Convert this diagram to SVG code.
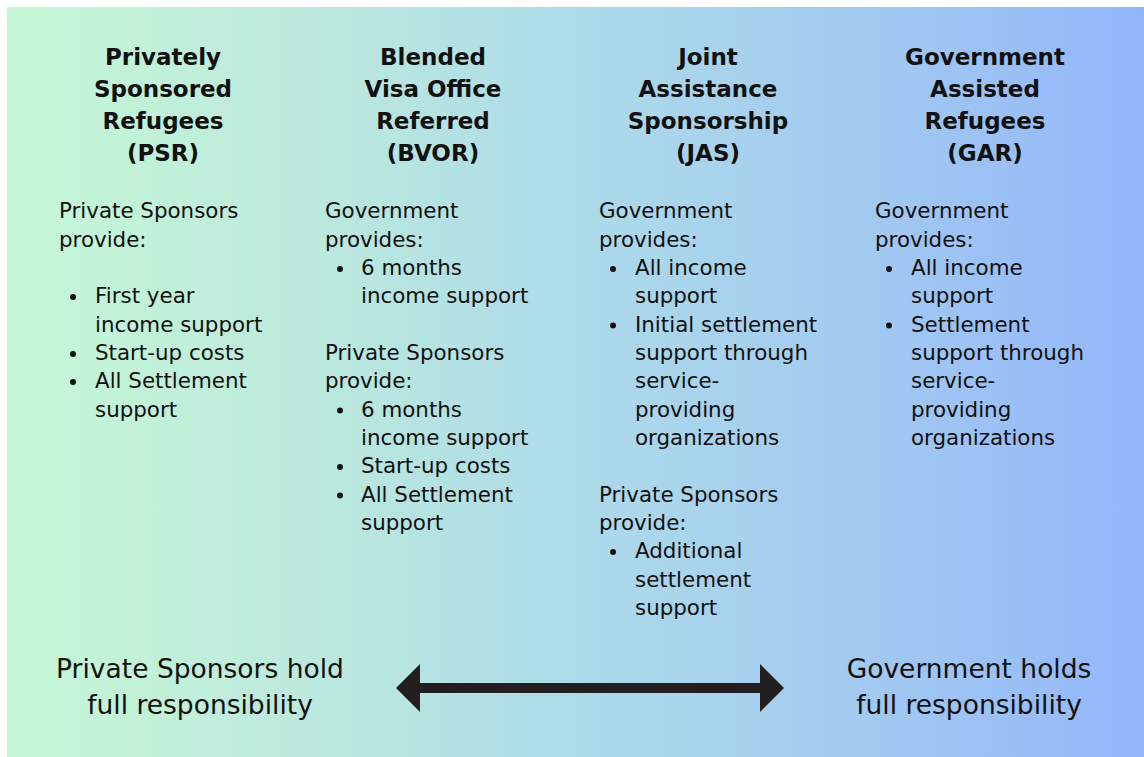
<svg xmlns="http://www.w3.org/2000/svg" width="1144" height="757" viewBox="0 0 1144 757">
<style>
  .h { font-family: "DejaVu Sans", sans-serif; font-weight: bold; font-size: 23px; fill: #111; text-anchor: middle; }
  .b { font-family: "DejaVu Sans", sans-serif; font-size: 21.4px; fill: #111; }
  .f { font-family: "DejaVu Sans", sans-serif; font-size: 26.5px; fill: #111; text-anchor: middle; }
  .dot { fill: #111; }
</style>
<defs>
  <linearGradient id="bg" x1="0" y1="0" x2="1" y2="0">
    <stop offset="0" stop-color="#c6f8d6"/>
    <stop offset="0.25" stop-color="#bdeadc"/>
    <stop offset="0.5" stop-color="#addbe9"/>
    <stop offset="0.75" stop-color="#a3caf0"/>
    <stop offset="1" stop-color="#93b6fb"/>
  </linearGradient>
  <marker id="ah" viewBox="0 0 24 48" refX="0" refY="24" markerWidth="24" markerHeight="48" markerUnits="userSpaceOnUse" orient="auto-start-reverse">
    <path d="M0,0 L24,24 L0,48 Z" fill="#231f20"/>
  </marker>
</defs>
<rect x="0" y="0" width="1144" height="757" fill="#ffffff"/>
<rect x="7" y="7" width="1137" height="750" fill="url(#bg)"/>

<g id="psr">
  <text class="h" x="163" y="65">Privately</text>
  <text class="h" x="163" y="97">Sponsored</text>
  <text class="h" x="163" y="129">Refugees</text>
  <text class="h" x="163" y="161">(PSR)</text>
  <text class="b" x="59" y="218">Private Sponsors</text>
  <text class="b" x="59" y="246.5">provide:</text>
  <circle class="dot" cx="73" cy="297" r="3"/>
  <text class="b" x="95" y="303">First year</text>
  <text class="b" x="95" y="331.5">income support</text>
  <circle class="dot" cx="73" cy="354" r="3"/>
  <text class="b" x="95" y="360">Start-up costs</text>
  <circle class="dot" cx="73" cy="382" r="3"/>
  <text class="b" x="95" y="388">All Settlement</text>
  <text class="b" x="95" y="416.5">support</text>
</g>

<g id="bvor">
  <text class="h" x="433" y="65">Blended</text>
  <text class="h" x="433" y="97">Visa Office</text>
  <text class="h" x="433" y="129">Referred</text>
  <text class="h" x="433" y="161">(BVOR)</text>
  <text class="b" x="325" y="218">Government</text>
  <text class="b" x="325" y="246.5">provides:</text>
  <circle class="dot" cx="340" cy="269" r="3"/>
  <text class="b" x="361" y="275">6 months</text>
  <text class="b" x="361" y="303">income support</text>
  <text class="b" x="325" y="360">Private Sponsors</text>
  <text class="b" x="325" y="388">provide:</text>
  <circle class="dot" cx="340" cy="410.5" r="3"/>
  <text class="b" x="361" y="416.5">6 months</text>
  <text class="b" x="361" y="445">income support</text>
  <circle class="dot" cx="340" cy="467" r="3"/>
  <text class="b" x="361" y="473">Start-up costs</text>
  <circle class="dot" cx="340" cy="495.5" r="3"/>
  <text class="b" x="361" y="501.5">All Settlement</text>
  <text class="b" x="361" y="530">support</text>
</g>

<g id="jas">
  <text class="h" x="708" y="65">Joint</text>
  <text class="h" x="708" y="97">Assistance</text>
  <text class="h" x="708" y="129">Sponsorship</text>
  <text class="h" x="708" y="161">(JAS)</text>
  <text class="b" x="599" y="218">Government</text>
  <text class="b" x="599" y="246.5">provides:</text>
  <circle class="dot" cx="613" cy="269" r="3"/>
  <text class="b" x="635" y="275">All income</text>
  <text class="b" x="635" y="303">support</text>
  <circle class="dot" cx="613" cy="325.5" r="3"/>
  <text class="b" x="635" y="331.5">Initial settlement</text>
  <text class="b" x="635" y="360">support through</text>
  <text class="b" x="635" y="388">service-</text>
  <text class="b" x="635" y="416.5">providing</text>
  <text class="b" x="635" y="445">organizations</text>
  <text class="b" x="599" y="501.5">Private Sponsors</text>
  <text class="b" x="599" y="530">provide:</text>
  <circle class="dot" cx="613" cy="552" r="3"/>
  <text class="b" x="635" y="558">Additional</text>
  <text class="b" x="635" y="586.5">settlement</text>
  <text class="b" x="635" y="615">support</text>
</g>

<g id="gar">
  <text class="h" x="985" y="65">Government</text>
  <text class="h" x="985" y="97">Assisted</text>
  <text class="h" x="985" y="129">Refugees</text>
  <text class="h" x="985" y="161">(GAR)</text>
  <text class="b" x="875" y="218">Government</text>
  <text class="b" x="875" y="246.5">provides:</text>
  <circle class="dot" cx="889" cy="269" r="3"/>
  <text class="b" x="911" y="275">All income</text>
  <text class="b" x="911" y="303">support</text>
  <circle class="dot" cx="889" cy="325.5" r="3"/>
  <text class="b" x="911" y="331.5">Settlement</text>
  <text class="b" x="911" y="360">support through</text>
  <text class="b" x="911" y="388">service-</text>
  <text class="b" x="911" y="416.5">providing</text>
  <text class="b" x="911" y="445">organizations</text>
</g>

<g id="private-end">
  <text class="f" x="200" y="678">Private Sponsors hold</text>
  <text class="f" x="200" y="714">full responsibility</text>
</g>

<g id="government-end">
  <text class="f" x="969" y="678">Government holds</text>
  <text class="f" x="969" y="714">full responsibility</text>
</g>

<g id="connectors">
  <line x1="420" y1="688" x2="760" y2="688" stroke="#231f20" stroke-width="10" marker-start="url(#ah)" marker-end="url(#ah)"/>
</g>
</svg>
